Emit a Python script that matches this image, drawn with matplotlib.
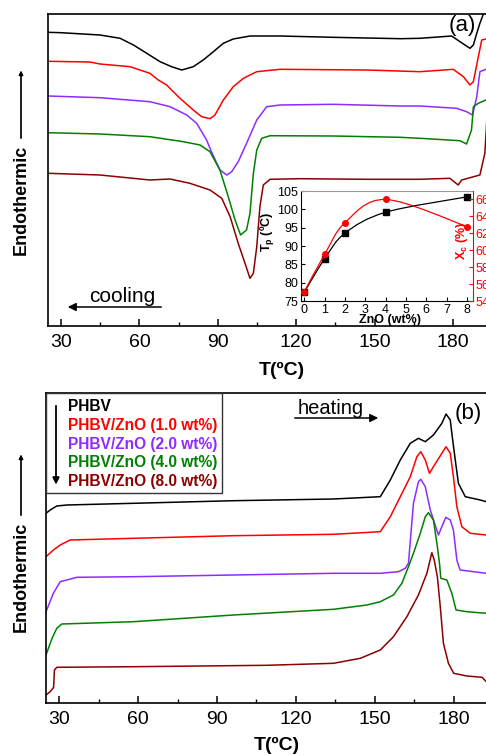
import numpy as np
import matplotlib
matplotlib.use('Agg')
import matplotlib.pyplot as plt
from matplotlib.path import Path
from matplotlib.patches import PathPatch, Rectangle
from matplotlib.ticker import MultipleLocator

plt.rcParams['font.family'] = ['Liberation Sans', 'DejaVu Sans']

colors = ['black', '#ff0000', '#8f2bff', '#008000', '#8b0000']
labels = ['PHBV', 'PHBV/ZnO (1.0 wt%)', 'PHBV/ZnO (2.0 wt%)',
          'PHBV/ZnO (4.0 wt%)', 'PHBV/ZnO (8.0 wt%)']

# (a) cooling curves, heat flow in arbitrary units
cool_T = [
    [25, 30, 44.9, 52.6, 57.7, 62.8, 67.9, 72.3, 76.2, 80.6, 84.4, 88.3, 92.1,
     95.9, 102.3, 113.8, 134, 160, 167.4, 179.5, 182.7, 186.5, 187.8, 189.1,
     190.3, 192.5],
    [25, 41.1, 44.9, 56.4, 64, 67.2, 70.4, 75.5, 80.6, 83.8, 87, 88.9, 92.1,
     95.9, 99.8, 104.9, 113.8, 146.9, 167.4, 180.1, 184, 186.5, 187.8, 189.7,
     191, 192.6],
    [25, 44.9, 64, 71.7, 78.1, 81.9, 85.7, 87.6, 90.8, 93.4, 95.3, 97.8, 101,
     104.9, 108.7, 113.8, 134.1, 159.6, 167.4, 181.4, 185.2, 187.5, 189.1,
     190.3, 192.6],
    [25, 44.9, 64, 76.8, 83.2, 87, 90.8, 94, 96.6, 98.7, 101, 102.3, 103.6,
     104.9, 106.8, 110, 134.1, 159.6, 167.4, 182.7, 185.2, 187.1, 187.8, 189.7,
     192.6],
    [25, 44.9, 64, 71.7, 79.3, 87, 91.5, 94.7, 97.8, 100.4, 102.3, 103.6,
     104.9, 106.1, 107.4, 110, 121.4, 146.9, 167.4, 178.8, 182, 183.3, 190.3,
     192.2, 193.5, 195],
]
cool_HF = [
    [293.7, 293.3, 291, 287.7, 281, 272.7, 264.3, 259.3, 256, 259.3, 266,
     274.3, 282.7, 287, 290, 290, 288.7, 287.3, 287.7, 290, 284.3, 277.7, 281,
     292.7, 302.7, 318],
    [264.7, 264, 262, 259.3, 252.7, 246, 241, 227.7, 216, 209.3, 207.3, 211,
     226, 239.3, 247.7, 254.3, 256.7, 256, 254.3, 256.7, 249.3, 241, 244.3,
     269.3, 286, 287],
    [230, 228.3, 224.3, 219.3, 211, 202.7, 186, 174, 156, 151, 154.3, 164.3,
     182.7, 206, 219.3, 221, 221.7, 220, 220, 217.7, 214.3, 211, 229.3, 254.3,
     256.7],
    [193.3, 192, 189.3, 184.3, 181, 174.3, 156, 129.3, 106, 91, 96, 112.7,
     152.7, 176, 187.7, 190.3, 190, 188.7, 187.7, 185.3, 182, 196, 219.3,
     222.7, 226],
    [152.7, 151, 146, 147, 142.7, 136, 127.7, 109.3, 82.7, 62.7, 47.7, 52.7,
     79.3, 119.3, 141, 146.7, 147.3, 146.7, 146.7, 147.7, 141, 146, 151, 172.7,
     230, 300],
]

# (b) heating curves
heat_T = [
    [25, 26.6, 29.1, 32.9, 58.3, 96.3, 134.3, 152.1, 155.9, 159.7, 163.5,
     166.6, 169.2, 172.3, 175.5, 177.1, 178.7, 179.3, 180.6, 181.8, 184.4,
     190.1, 192.4],
    [25, 27.8, 30.4, 34.2, 58.3, 96.3, 134.3, 152.1, 155.9, 159.7, 163.5, 166,
     167.5, 169.2, 170.8, 172.3, 175.5, 177.1, 178.7, 179.9, 181.2, 183.1,
     186.3, 192.4],
    [25, 27.8, 30.4, 32.9, 36.7, 58.3, 96.3, 134.3, 152.1, 159, 161.6, 162.8,
     164.7, 166.6, 167.5, 169.2, 171.1, 174.2, 175.5, 177, 178.7, 179.9, 181.2,
     182.2, 182.5, 192.4],
    [25, 27.3, 29.1, 31, 58.3, 96.3, 134.3, 147, 152.1, 157.1, 160.3, 162.8,
     164.7, 167.3, 169.2, 170.4, 172.3, 173.8, 174.6, 175.1, 177.4, 179.3,
     180.9, 185, 192.4],
    [25, 26.6, 27.9, 28.2, 29.1, 58.3, 109, 134.3, 144.5, 152.1, 157.1, 162.2,
     166.6, 169.8, 171.7, 172.6, 173.8, 174.9, 176.1, 178, 180, 185, 190.8,
     192.4],
]
heat_HF = [
    [189.4, 192.7, 196.7, 197.7, 199.4, 202, 203.7, 206, 222.7, 242.7, 259.4,
     264.4, 261, 267.7, 279.4, 288.7, 282.7, 269.4, 242.7, 219.4, 206, 202.7,
     201],
    [146, 152.7, 157.7, 162.7, 164.4, 167, 168.4, 171, 186, 206, 226, 246,
     251, 242.7, 229.4, 236, 249.4, 256, 249.4, 226, 196, 176, 169.4, 167.7],
    [91, 109.4, 121, 122.7, 125.4, 126, 127.7, 129.4, 129.4, 131, 134.4,
     139.4, 199.4, 221, 223.4, 216, 192.7, 167.7, 176, 185.4, 182.7, 172.7,
     142.7, 134.4, 132.7, 129.4],
    [47.7, 64.4, 74.4, 78.7, 81, 87.7, 93.4, 97.7, 101, 107.7, 119.4, 136,
     149.4, 169.4, 186, 190, 182.7, 156, 139.4, 124.4, 122.7, 109.4, 92.7, 91,
     89.4],
    [7.7, 11, 15.4, 32.7, 35.4, 36, 37.4, 39.4, 44.4, 52.7, 66, 86, 107.7,
     129.4, 150, 142.7, 126, 96, 59.4, 39.4, 29.4, 26.7, 25.4, 21],
]

# inset data
zno = [0, 1, 2, 4, 8]
tp = [77.4, 86.5, 93.5, 99.2, 103.4]
xc = [55.1, 59.5, 63.25, 66.0, 62.8]


def smooth_path(x, y):
    # catmull-rom style bezier through the points
    pts = np.column_stack([x, y]).astype(float)
    verts = [pts[0]]
    codes = [Path.MOVETO]
    n = len(pts)
    for i in range(n - 1):
        p0 = pts[max(i - 1, 0)]
        p1 = pts[i]
        p2 = pts[i + 1]
        p3 = pts[min(i + 2, n - 1)]
        verts += [p1 + (p2 - p0) / 6, p2 - (p3 - p1) / 6, p2]
        codes += [Path.CURVE4] * 3
    return Path(verts, codes)


fig = plt.figure(figsize=(4.86, 7.55), dpi=100)

W, H = 486.0, 755.0


def fx(px):
    return px / W


def fy(py):
    return 1 - py / H


def style_main(ax):
    ax.set_xlim(25, 197)
    ax.xaxis.set_major_locator(MultipleLocator(30))
    ax.xaxis.set_minor_locator(MultipleLocator(15))
    ax.tick_params(axis='x', which='major', direction='in', length=5, width=1.1,
                   labelsize=14, pad=6)
    ax.tick_params(axis='x', which='minor', direction='in', length=3, width=1)
    ax.set_yticks([])
    for s in ax.spines.values():
        s.set_linewidth(1.2)


ax1 = fig.add_axes([fx(48), fy(326), (497.4 - 48) / W, 312 / H])
for T, hf, c in zip(cool_T, cool_HF, colors):
    ax1.plot(T, hf, color=c, lw=1.1, solid_joinstyle='round')
ax1.set_ylim(0, 312)
style_main(ax1)

ax2 = fig.add_axes([fx(46), fy(702.7), (498.4 - 46) / W, 310 / H])
for T, hf, c in zip(heat_T, heat_HF, colors):
    ax2.plot(T, hf, color=c, lw=1.1, solid_joinstyle='round')
ax2.set_ylim(0, 310)
style_main(ax2)

# x labels
fig.text(fx(282), fy(370), 'T(ºC)', fontsize=14, fontweight='bold',
         ha='center', va='center')
fig.text(fx(277), fy(745), 'T(ºC)', fontsize=14, fontweight='bold',
         ha='center', va='center')

# y labels with arrows
for cy, y0, y1 in [(200, 141, 68), (577, 518, 452)]:
    fig.text(fx(21), fy(cy), 'Endothermic', fontsize=13, fontweight='bold',
             rotation=90, ha='center', va='center')
    fig.add_artist(plt.annotate('', xy=(fx(21), fy(y1)), xytext=(fx(21), fy(y0)),
                                xycoords='figure fraction',
                                arrowprops=dict(arrowstyle='-|>', lw=0.9,
                                                mutation_scale=6, color='black')))

# panel annotations
fig.text(fx(462), fy(26), '(a)', fontsize=16, ha='center', va='center')
fig.text(fx(468), fy(414), '(b)', fontsize=16, ha='center', va='center')
fig.text(fx(122), fy(297), 'cooling', fontsize=15, ha='center', va='center')
ax1.annotate('', xy=(fx(65), fy(307)), xytext=(fx(164), fy(307)),
             xycoords='figure fraction',
             arrowprops=dict(arrowstyle='-|>', lw=1.1, mutation_scale=12,
                             color='black'))
fig.text(fx(331), fy(408), 'heating', fontsize=14.5, ha='center', va='center')
ax2.annotate('', xy=(fx(381), fy(418)), xytext=(fx(292), fy(418)),
             xycoords='figure fraction',
             arrowprops=dict(arrowstyle='-|>', lw=1.1, mutation_scale=12,
                             color='black'))

# legend box
fig.patches.append(Rectangle((fx(46), fy(493)), fx(222) - fx(46),
                             fy(392.7) - fy(493), transform=fig.transFigure,
                             fill=False, lw=1.0, edgecolor='#333333'))
fig.add_artist(plt.annotate('', xy=(fx(56), fy(487)), xytext=(fx(56), fy(403)),
                            xycoords='figure fraction',
                            arrowprops=dict(arrowstyle='-|>', lw=1.0,
                                            mutation_scale=10, color='black')))
for i, (lab, c) in enumerate(zip(labels, colors)):
    fig.text(fx(68), fy(406.7 + i * 18.75), lab, color=c, fontsize=11.2,
             fontweight='bold', ha='left', va='center')

# inset
ins = fig.add_axes([fx(301), fy(301), 172 / W, 110 / H])
ins.set_facecolor('none')
ins.add_patch(PathPatch(smooth_path(zno, tp), fill=False, color='black', lw=0.9))
ins.plot(zno, tp, 's', color='black', ms=4)
ins.set_xlim(-0.16, 8.3)
ins.set_ylim(75, 105)
ins.xaxis.set_major_locator(MultipleLocator(1))
ins.yaxis.set_major_locator(MultipleLocator(5))
ins.tick_params(direction='in', labelsize=9, length=3, pad=2)
ins.spines['top'].set_color('#999999')
ins.spines['right'].set_visible(False)

ins2 = ins.twinx()
ins2.add_patch(PathPatch(smooth_path(zno, xc), fill=False, color='#ff0000', lw=0.9))
ins2.plot(zno, xc, 'o', color='#ff0000', ms=4)
ins2.set_ylim(54, 67)
ins2.yaxis.set_major_locator(MultipleLocator(2))
ins2.tick_params(direction='in', labelsize=9, length=3, pad=2,
                 colors='#ff0000')
ins2.spines['right'].set_color('#ff0000')
ins2.spines['top'].set_visible(False)
ins2.spines['left'].set_visible(False)
ins2.spines['bottom'].set_visible(False)

fig.text(fx(268), fy(232), r'T$_\mathregular{p}$ (ºC)', fontsize=9,
         fontweight='bold', rotation=90, ha='center', va='center')
fig.text(fx(462), fy(241), r'X$_\mathregular{c}$ (%)', fontsize=9,
         fontweight='bold', color='#ff0000', rotation=90, ha='center', va='center')
fig.text(fx(390), fy(320), 'ZnO (wt%)', fontsize=9, fontweight='bold',
         ha='center', va='center')

fig.savefig('out.png', dpi=100)
